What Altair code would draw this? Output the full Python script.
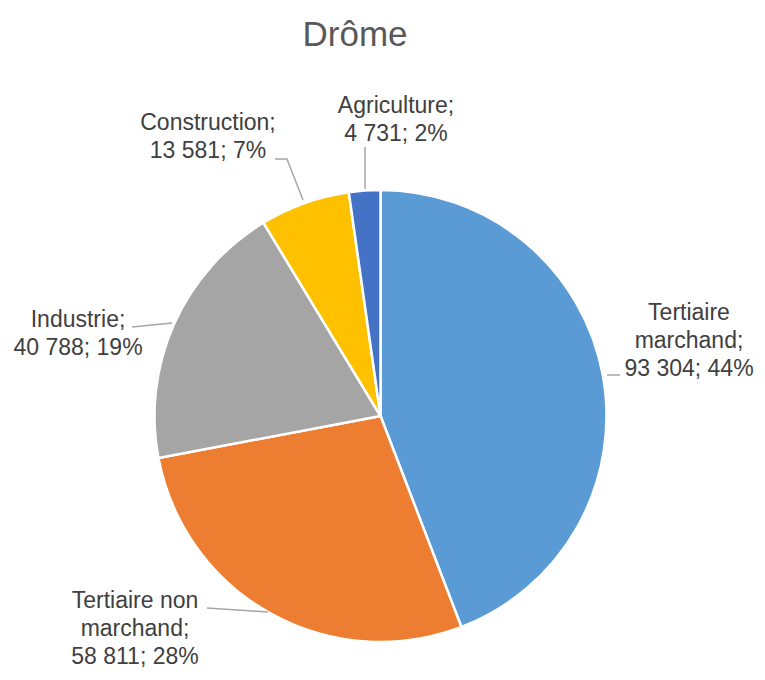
import altair as alt
import pandas as pd

# ---- data ----
categories = ["Tertiaire marchand", "Tertiaire non marchand", "Industrie", "Construction", "Agriculture"]
label_names = ["Tertiaire\nmarchand;", "Tertiaire non\nmarchand;", "Industrie;", "Construction;", "Agriculture;"]
values = [93304, 58811, 40788, 13581, 4731]
percents = [44, 28, 19, 7, 2]
colors = ["#5B9BD5", "#ED7D31", "#A5A5A5", "#FFC000", "#4472C4"]

# ---- annotation layout (plot-area pixels) ----
label_x = [681, 127, 70, 200, 388]
label_y = [312, 600, 319, 122, 105]
leaders = [
    [(599, 367), (612, 367)],
    [(199, 600), (260, 604)],
    [(124, 319), (164, 315)],
    [(267, 151), (279, 151), (295, 192)],
    [(357, 139), (357, 181)],
]

W, H = 749, 664
CX, CY, R = 372.5, 408, 226

def fmt(v):
    return f"{v:,}".replace(",", " ")

df = pd.DataFrame({
    "cat": categories,
    "value": values,
    "idx": list(range(len(categories))),
})
df_lab = pd.DataFrame({
    "cat": categories,
    "text": [f"{n}\n{fmt(v)}; {p}%" for n, v, p in zip(label_names, values, percents)],
    "x": label_x,
    "y": label_y,
})
rows = []
for i, pts in enumerate(leaders):
    for j, (x, y) in enumerate(pts):
        rows.append({"id": i, "seq": j, "x": x, "y": y})
df_lead = pd.DataFrame(rows)

pie = alt.Chart(df).mark_arc(outerRadius=R, stroke="white", strokeWidth=2.5).encode(
    theta=alt.Theta("value:Q", stack=True),
    order=alt.Order("idx:Q"),
    color=alt.Color("cat:N", scale=alt.Scale(domain=categories, range=colors), legend=None),
    x=alt.value(CX),
    y=alt.value(CY),
)

lead = alt.Chart(df_lead).mark_line(color="#A6A6A6", strokeWidth=1.5).encode(
    x=alt.X("x:Q", scale=None),
    y=alt.Y("y:Q", scale=None),
    detail="id:N",
    order="seq:Q",
)

labels = alt.Chart(df_lab).mark_text(
    font="Liberation Sans", fontSize=23, color="#404040", align="center",
    baseline="alphabetic", lineBreak="\n", lineHeight=28,
).encode(
    x=alt.X("x:Q", scale=None),
    y=alt.Y("y:Q", scale=None),
    text="text:N",
)

title = alt.Chart(pd.DataFrame({"t": ["Drôme"]})).mark_text(
    font="Liberation Sans", fontSize=35, color="#595959", align="center", baseline="alphabetic",
).encode(
    x=alt.value(347),
    y=alt.value(38),
    text="t:N",
)

chart = alt.layer(pie, lead, labels, title).properties(
    width=W, height=H, padding=0, autosize="none"
).configure_view(stroke=None)

chart.save("out.html", embed_options={"renderer": "svg", "actions": False})
